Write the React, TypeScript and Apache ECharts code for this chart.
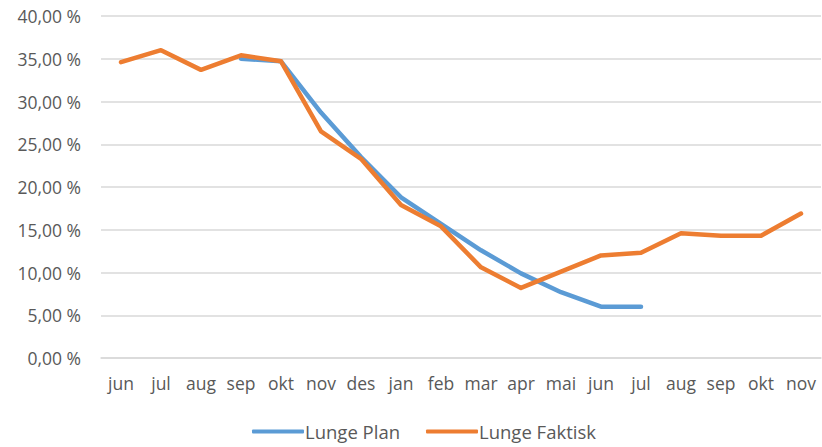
import React, { useEffect, useRef } from "react";
import * as echarts from "echarts";

const categories = ["jun", "jul", "aug", "sep", "okt", "nov", "des", "jan", "feb", "mar", "apr", "mai", "jun", "jul", "aug", "sep", "okt", "nov"];
const planValues: (number | null)[] = [null, null, null, 35.0, 34.7, 28.7, 23.5, 18.8, 15.7, 12.6, 9.9, 7.7, 6.0, 6.0, null, null, null, null];
const faktiskValues: (number | null)[] = [34.6, 36.0, 33.7, 35.4, 34.7, 26.5, 23.3, 17.9, 15.4, 10.6, 8.2, 10.1, 12.0, 12.3, 14.6, 14.3, 14.3, 16.9];
const seriesNames = ["Lunge Plan", "Lunge Faktisk"];

const FONT = "'Open Sans', Lato, sans-serif";
const TEXT = "#595959";

export default function App() {
  const ref = useRef<HTMLDivElement>(null);
  useEffect(() => {
    if (!ref.current) return;
    const chart = echarts.init(ref.current, undefined, { renderer: "svg" });
    chart.setOption({
      animation: false,
      backgroundColor: "#ffffff",
      grid: { left: 101, right: 1, top: 16, bottom: 89 },
      legend: {
        bottom: 1,
        left: 247,
        itemWidth: 52,
        itemHeight: 4,
        itemGap: 26,
        icon: "roundRect",
        textStyle: { color: TEXT, fontSize: 18.5, fontFamily: FONT, padding: [0, 0, 0, -4] },
        data: seriesNames,
      },
      xAxis: {
        type: "category",
        data: categories,
        boundaryGap: true,
        axisLine: { show: true, lineStyle: { color: "#D9D9D9", width: 1.5 } },
        axisTick: { show: false },
        axisLabel: { color: TEXT, fontSize: 17.5, fontFamily: FONT, margin: 16, interval: 0 },
      },
      yAxis: {
        type: "value",
        min: 0,
        max: 40,
        interval: 5,
        axisLine: { show: false },
        axisTick: { show: false },
        splitLine: { lineStyle: { color: "#D9D9D9", width: 1.5 } },
        axisLabel: {
          color: TEXT,
          fontSize: 17.5,
          fontFamily: FONT,
          margin: 20,
          formatter: (v: number) => v.toFixed(2).replace(".", ",") + " %",
        },
      },
      series: [
        {
          name: seriesNames[0],
          type: "line",
          data: planValues,
          symbol: "none",
          connectNulls: false,
          lineStyle: { color: "#5B9BD5", width: 4.5, cap: "round", join: "round" },
          itemStyle: { color: "#5B9BD5" },
        },
        {
          name: seriesNames[1],
          type: "line",
          data: faktiskValues,
          symbol: "none",
          lineStyle: { color: "#ED7D31", width: 4.5, cap: "round", join: "round" },
          itemStyle: { color: "#ED7D31" },
        },
      ],
    });
    return () => chart.dispose();
  }, []);
  return <div ref={ref} style={{ width: 822, height: 447, position: "absolute", left: 0, top: 0 }} />;
}
